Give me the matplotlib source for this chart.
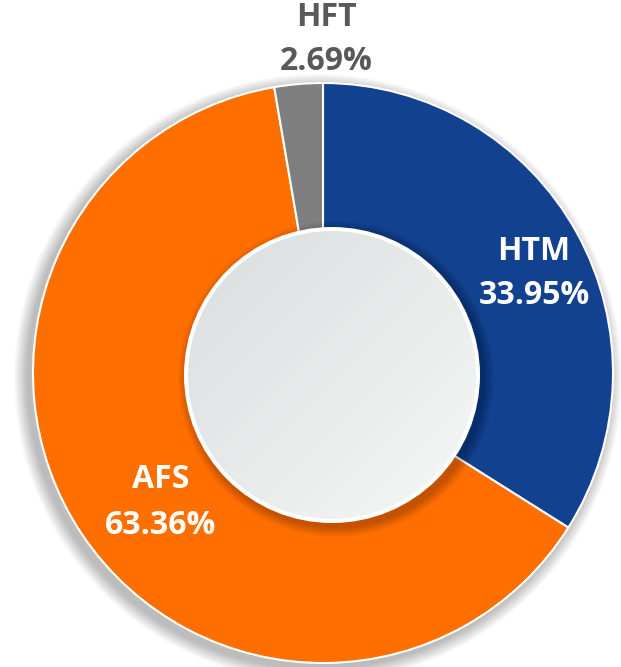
import matplotlib.pyplot as plt
import numpy as np
from matplotlib.patches import Circle

labels = ["HTM", "AFS", "HFT"]
shares = [33.95, 63.36, 2.69]
colors = ["#12418F", "#FF6F00", "#7F7F7F"]
text_colors = ["white", "white", "#595959"]
# label anchors in pixels from the top: (x, name line y, value line y)
label_pos = [(534, 251, 295), (161, 480, 526), (326, 18, 62)]

W, H = 621, 667
fig = plt.figure(figsize=(W / 100, H / 100), dpi=100, facecolor="white")
ax = fig.add_axes([0, 0, 1, 1])

cx, cy, R = 323, H - 373, 290
hx, hy, hr = 332, H - 375, 148

# soft shadow behind the ring (down-left)
for i in range(14):
    ax.add_patch(Circle((cx - 5, cy - 5), R + 14 - i, color="black", alpha=0.018, lw=0, zorder=0))

ax.pie(
    shares,
    colors=colors,
    startangle=90,
    counterclock=False,
    radius=R,
    center=(cx, cy),
    wedgeprops=dict(edgecolor="white", linewidth=1.5),
    frame=True,
)

# shadow of the centre disc (down-right)
for i in range(10):
    ax.add_patch(Circle((hx + 4, hy - 4), hr + 10 - i, color="black", alpha=0.025, lw=0, zorder=3))
ax.add_patch(Circle((hx, hy), hr, color="white", lw=0, zorder=4))

# gradient fill of the centre disc, darker top-left to lighter bottom-right
inner = Circle((hx, hy), hr - 4, transform=ax.transData, facecolor="none", lw=0)
ax.add_patch(inner)
n = 200
u = np.linspace(0, 1, n)
t = (u[None, :] + u[:, None]) / 2
c0 = np.array([0xD9, 0xDD, 0xDD]) / 255
c1 = np.array([0xF7, 0xF8, 0xF8]) / 255
grad = c0[None, None, :] * (1 - t[..., None]) + c1[None, None, :] * t[..., None]
im = ax.imshow(
    grad,
    extent=(hx - hr, hx + hr, hy - hr, hy + hr),
    origin="upper",
    zorder=5,
    interpolation="bilinear",
)
im.set_clip_path(inner)

for lab, val, col, (tx, ty1, ty2) in zip(labels, shares, text_colors, label_pos):
    ax.text(tx, H - ty1, lab, color=col, fontsize=23, fontweight="bold",
            family=["Open Sans", "DejaVu Sans"], ha="center", va="center", zorder=6)
    ax.text(tx, H - ty2, f"{val:.2f}%", color=col, fontsize=23, fontweight="bold",
            family=["Open Sans", "DejaVu Sans"], ha="center", va="center", zorder=6)

ax.set_xlim(0, W)
ax.set_ylim(0, H)
ax.set_aspect("equal")
ax.set_axis_off()
fig.savefig("out.png", dpi=100, facecolor="white")
